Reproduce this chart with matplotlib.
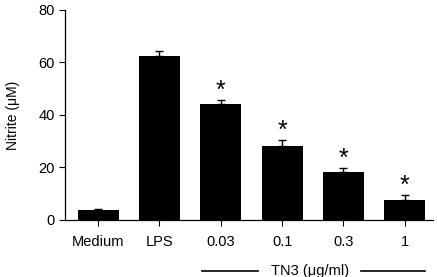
import matplotlib
matplotlib.use("Agg")
import matplotlib.pyplot as plt
import numpy as np

plt.rcParams['font.family'] = ['Liberation Sans', 'DejaVu Sans']

categories = ["Medium", "LPS", "0.03", "0.1", "0.3", "1"]
values = [3.7, 62.3, 44.0, 28.2, 18.1, 7.7]
errors = [0.3, 2.0, 1.8, 2.1, 1.7, 1.9]
significant = [False, False, True, True, True, True]
yticks = [0, 20, 40, 60, 80]

fig = plt.figure(figsize=(4.37, 2.77), dpi=100)
ax = fig.add_axes([0.1487, 0.2058, 0.8423, 0.7582])

x = np.arange(len(categories))
ax.bar(x, values, width=0.67, color='black')
ax.errorbar(x, values, yerr=[np.zeros(len(values)), errors], fmt='none',
            ecolor='black', elinewidth=1.0, capsize=3, capthick=1.0)
for xi, v, e, s in zip(x, values, errors, significant):
    if s:
        ax.annotate('*', (xi, v + e), xytext=(0, -2), textcoords='offset points',
                    ha='center', va='bottom', fontsize=18)

ax.set_xlim(-0.54, 5.46)
ax.set_ylim(0, 80)
ax.set_yticks(yticks)
ax.set_xticks(x)
ax.set_xticklabels(categories)
ax.tick_params(axis='both', labelsize=10.5, length=4, width=0.8, direction='out')
ax.tick_params(axis='x', pad=7)
for s in ['top', 'right']:
    ax.spines[s].set_visible(False)
for s in ['left', 'bottom']:
    ax.spines[s].set_linewidth(0.9)
ax.set_ylabel('Nitrite (μM)', fontsize=10, labelpad=13)

# TN3 group label
fig.text(310/437, 1 - 271/277, 'TN3 (μg/ml)', ha='center', va='center', fontsize=10.5)
fig.add_artist(plt.Line2D([202/437, 258/437], [1 - 271/277]*2, color='black', lw=1.2))
fig.add_artist(plt.Line2D([361/437, 425/437], [1 - 271/277]*2, color='black', lw=1.2))

fig.savefig('out.png', dpi=100)
